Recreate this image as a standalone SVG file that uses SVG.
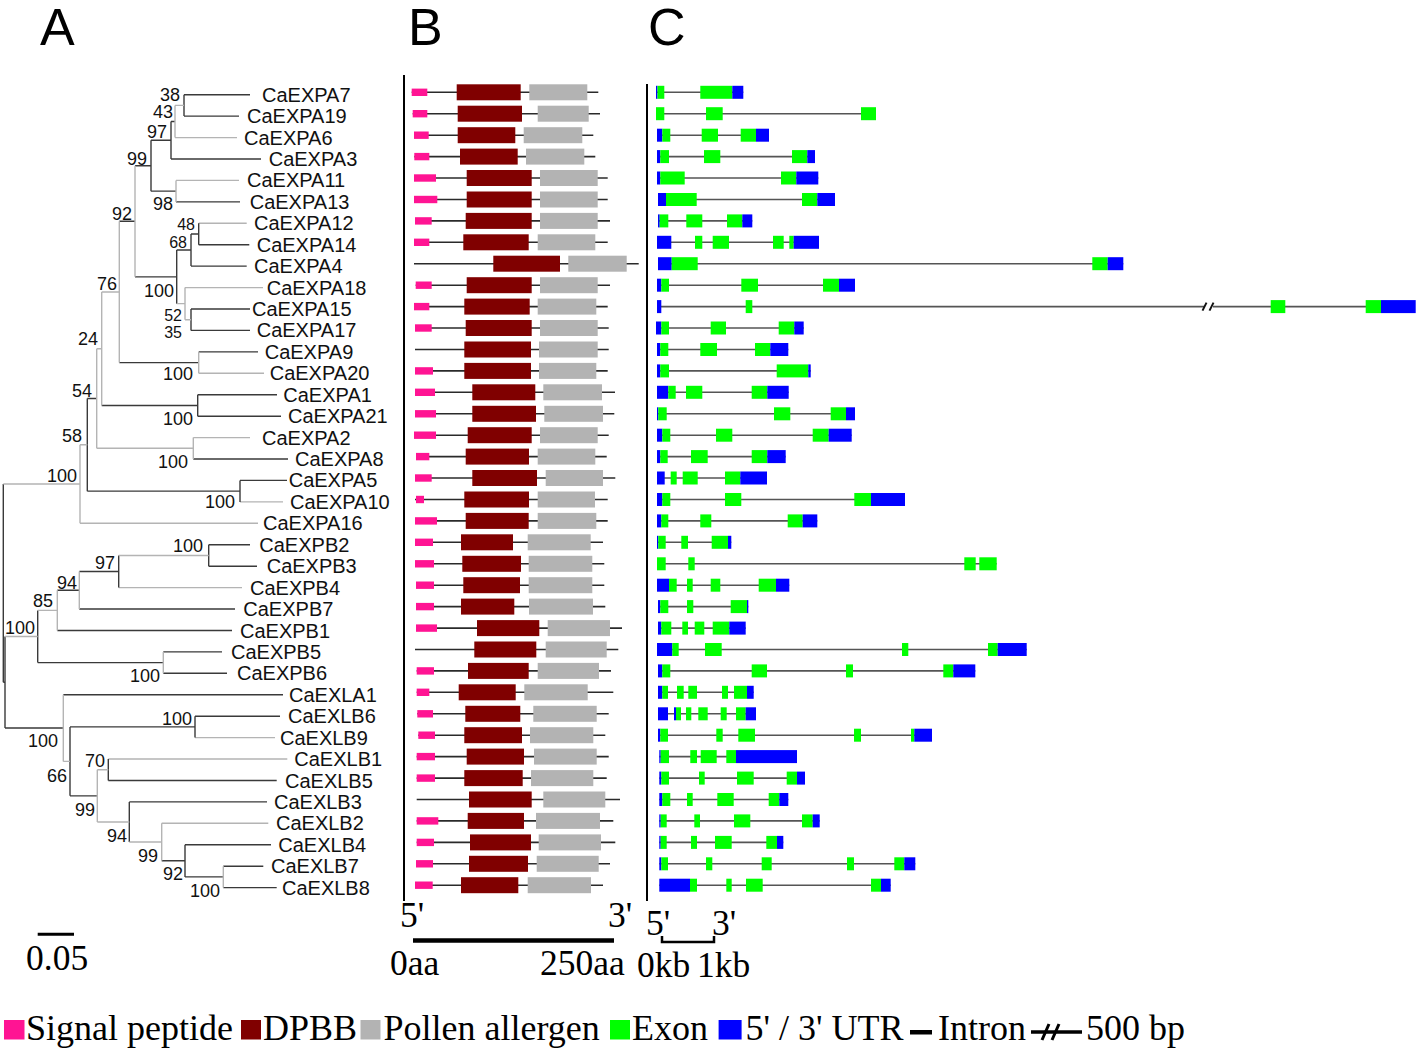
<svg xmlns="http://www.w3.org/2000/svg" width="1418" height="1052" viewBox="0 0 1418 1052">
<style>
.bg{fill:#fff}
.d{stroke:#3a3a3a;stroke-width:1.4;fill:none}
.g{stroke:#b4b4b4;stroke-width:1.4;fill:none}
.lf{font-family:"Liberation Sans",Arial,sans-serif;font-size:20px;fill:#111}
.sv{font-family:"Liberation Sans",Arial,sans-serif;font-size:18px;fill:#111;text-anchor:end}
.sm{font-size:16px}
.ttl{font-family:"Liberation Sans",Arial,sans-serif;font-size:52px;fill:#000}
.sr{font-family:"Liberation Serif","Times New Roman",serif;font-size:35.5px;fill:#000}
.lg{font-family:"Liberation Serif","Times New Roman",serif;font-size:36px;fill:#000}
.ax{stroke:#000;stroke-width:2;fill:none}
.bl{stroke:#2a2a2a;stroke-width:1.6}
.sp{fill:#ff1493}
.dp{fill:#800000}
.pa{fill:#b3b3b3}
.in{stroke:#555;stroke-width:1.6}
.ex{fill:#00ff00}
.ut{fill:#0000ff}
</style>
<rect class="bg" x="0" y="0" width="1418" height="1052"/>
<text class="ttl" x="40" y="45">A</text>
<text class="ttl" x="408" y="45">B</text>
<text class="ttl" x="648" y="45">C</text>

<g id="tree-connectors">
<path class="d" d="M184 94.7H250M184 116.1H239M171 159H261M176 201.9H240M198.7 244.7H249.3M191 266.1H246.7M191 309H250M191 330.4H250M198.7 351.9H258M197.7 394.7H277M197.7 416.2H281M193.3 459H288M240 480.4H287M208.7 544.7H250M208.7 566.2H257M79.3 609H235M57.3 630.5H232M163.3 651.9H222M163.3 673.3H227M63.3 694.7H283M195 716.2H280M108.3 780.5H276.7M129.3 801.9H267M185 844.7H271M223.3 866.2H263.3M223.3 887.6H276.7"/>
<path class="g" d="M175 137.6H237M176 180.4H239M198.7 223.3H246.7M185 287.6H263M198.7 373.3H264M193.3 437.6H250M240 501.9H283M80 523.3H258M118.7 587.6H242M195 737.6H275M108.3 759H287.3M161.7 823.3H268.3"/>
<path class="d" d="M184 94.7V116.1M171 121.5V159M171 121.5H175M151 140.25V191.15M151 140.25H171M151 191.15H176M198.7 223.3V244.7M191 234V266.1M191 234H198.7M191 309V330.4M176.7 250.05V303.65M176.7 250.05H191M135 165.7H151M135 276.85H176.7M119.3 221.3H135M119.3 362.6H198.7M197.7 394.7V416.2M101.7 405.45H197.7M240 480.4V501.9M87.3 398.5V491.15M87.3 398.5H96.7M87.3 491.15H240M208.7 544.7V566.2M118.7 555.45V587.6M79.3 571.5H118.7M57.3 590.25H79.3M37.7 610.4V662.6M37.7 662.6H163.3M195 716.2V737.6M108.3 759V780.5M185 844.7V876.9M185 876.9H223.3M161.7 860.8H185M129.3 801.9V842.05M70 726.9V795.86M70 726.9H195M70 795.86H97.3M5 636.5V728.04M5 728.04H63.3M3.3 484.05V682.27M3.3 682.27H5"/>
<path class="g" d="M175 105.4V137.6M175 105.4H184M176 180.4V201.9M185 287.6V319.7M185 319.7H191M176.7 303.65H185M135 165.7V276.85M198.7 351.9V373.3M119.3 221.3V362.6M101.7 291.95V405.45M101.7 291.95H119.3M193.3 437.6V459M96.7 348.7V448.3M96.7 348.7H101.7M96.7 448.3H193.3M80 444.8V523.3M80 444.8H87.3M118.7 555.45H208.7M79.3 571.5V609M57.3 590.25V630.5M163.3 651.9V673.3M37.7 610.4H57.3M223.3 866.2V887.6M161.7 823.3V860.8M129.3 842.05H161.7M97.3 769.75V821.98M97.3 769.75H108.3M97.3 821.98H129.3M63.3 694.7V761.38M63.3 761.38H70M5 636.5H37.7M3.3 484.05H80"/>
</g>

<g id="support-values">
<text class="sv" x="180" y="101">38</text>
<text class="sv" x="173" y="118">43</text>
<text class="sv" x="167" y="138">97</text>
<text class="sv" x="147" y="165">99</text>
<text class="sv" x="173" y="210">98</text>
<text class="sv" x="132" y="220">92</text>
<text class="sv sm" x="195" y="229.5">48</text>
<text class="sv sm" x="187" y="247.5">68</text>
<text class="sv" x="117" y="290">76</text>
<text class="sv" x="174" y="297">100</text>
<text class="sv sm" x="182" y="320.5">52</text>
<text class="sv sm" x="182" y="338">35</text>
<text class="sv" x="98" y="345">24</text>
<text class="sv" x="193" y="380">100</text>
<text class="sv" x="92" y="397">54</text>
<text class="sv" x="193" y="425">100</text>
<text class="sv" x="82" y="442">58</text>
<text class="sv" x="188" y="468">100</text>
<text class="sv" x="77" y="482">100</text>
<text class="sv" x="235" y="508">100</text>
<text class="sv" x="203" y="552">100</text>
<text class="sv" x="115" y="569">97</text>
<text class="sv" x="77" y="589">94</text>
<text class="sv" x="53" y="607">85</text>
<text class="sv" x="35" y="634">100</text>
<text class="sv" x="160" y="682">100</text>
<text class="sv" x="192" y="725">100</text>
<text class="sv" x="58" y="747">100</text>
<text class="sv" x="105" y="767">70</text>
<text class="sv" x="67" y="782">66</text>
<text class="sv" x="95" y="816">99</text>
<text class="sv" x="127" y="842">94</text>
<text class="sv" x="158" y="862">99</text>
<text class="sv" x="183" y="880">92</text>
<text class="sv" x="220" y="897">100</text>
</g>

<g id="leaf-labels">
<g id="leaf-CaEXPA7"><text class="lf" x="262" y="101.7">CaEXPA7</text></g>
<g id="leaf-CaEXPA19"><text class="lf" x="247" y="123.1">CaEXPA19</text></g>
<g id="leaf-CaEXPA6"><text class="lf" x="244" y="144.6">CaEXPA6</text></g>
<g id="leaf-CaEXPA3"><text class="lf" x="268.7" y="166">CaEXPA3</text></g>
<g id="leaf-CaEXPA11"><text class="lf" x="247" y="187.4">CaEXPA11</text></g>
<g id="leaf-CaEXPA13"><text class="lf" x="249.7" y="208.9">CaEXPA13</text></g>
<g id="leaf-CaEXPA12"><text class="lf" x="254" y="230.3">CaEXPA12</text></g>
<g id="leaf-CaEXPA14"><text class="lf" x="256.7" y="251.7">CaEXPA14</text></g>
<g id="leaf-CaEXPA4"><text class="lf" x="254" y="273.1">CaEXPA4</text></g>
<g id="leaf-CaEXPA18"><text class="lf" x="266.7" y="294.6">CaEXPA18</text></g>
<g id="leaf-CaEXPA15"><text class="lf" x="252" y="316">CaEXPA15</text></g>
<g id="leaf-CaEXPA17"><text class="lf" x="256.7" y="337.4">CaEXPA17</text></g>
<g id="leaf-CaEXPA9"><text class="lf" x="264.7" y="358.9">CaEXPA9</text></g>
<g id="leaf-CaEXPA20"><text class="lf" x="269.7" y="380.3">CaEXPA20</text></g>
<g id="leaf-CaEXPA1"><text class="lf" x="283.3" y="401.7">CaEXPA1</text></g>
<g id="leaf-CaEXPA21"><text class="lf" x="288" y="423.2">CaEXPA21</text></g>
<g id="leaf-CaEXPA2"><text class="lf" x="262" y="444.6">CaEXPA2</text></g>
<g id="leaf-CaEXPA8"><text class="lf" x="295" y="466">CaEXPA8</text></g>
<g id="leaf-CaEXPA5"><text class="lf" x="288.7" y="487.4">CaEXPA5</text></g>
<g id="leaf-CaEXPA10"><text class="lf" x="290" y="508.9">CaEXPA10</text></g>
<g id="leaf-CaEXPA16"><text class="lf" x="263" y="530.3">CaEXPA16</text></g>
<g id="leaf-CaEXPB2"><text class="lf" x="259.3" y="551.7">CaEXPB2</text></g>
<g id="leaf-CaEXPB3"><text class="lf" x="266.7" y="573.2">CaEXPB3</text></g>
<g id="leaf-CaEXPB4"><text class="lf" x="250" y="594.6">CaEXPB4</text></g>
<g id="leaf-CaEXPB7"><text class="lf" x="243.3" y="616">CaEXPB7</text></g>
<g id="leaf-CaEXPB1"><text class="lf" x="240" y="637.5">CaEXPB1</text></g>
<g id="leaf-CaEXPB5"><text class="lf" x="231" y="658.9">CaEXPB5</text></g>
<g id="leaf-CaEXPB6"><text class="lf" x="237" y="680.3">CaEXPB6</text></g>
<g id="leaf-CaEXLA1"><text class="lf" x="289" y="701.7">CaEXLA1</text></g>
<g id="leaf-CaEXLB6"><text class="lf" x="288" y="723.2">CaEXLB6</text></g>
<g id="leaf-CaEXLB9"><text class="lf" x="280" y="744.6">CaEXLB9</text></g>
<g id="leaf-CaEXLB1"><text class="lf" x="294.3" y="766">CaEXLB1</text></g>
<g id="leaf-CaEXLB5"><text class="lf" x="285" y="787.5">CaEXLB5</text></g>
<g id="leaf-CaEXLB3"><text class="lf" x="274" y="808.9">CaEXLB3</text></g>
<g id="leaf-CaEXLB2"><text class="lf" x="276" y="830.3">CaEXLB2</text></g>
<g id="leaf-CaEXLB4"><text class="lf" x="278.3" y="851.7">CaEXLB4</text></g>
<g id="leaf-CaEXLB7"><text class="lf" x="271" y="873.2">CaEXLB7</text></g>
<g id="leaf-CaEXLB8"><text class="lf" x="282" y="894.6">CaEXLB8</text></g>
</g>

<g id="scale-A">
<line x1="37.7" y1="934.3" x2="74" y2="934.3" stroke="#000" stroke-width="3"/>
<text class="sr" x="26" y="970" font-size="35">0.05</text>
</g>

<g id="panel-B">
<line class="ax" x1="404" y1="75" x2="404" y2="901"/>
<g id="b0" transform="translate(0,92.3)"><line class="bl" x1="411.7" x2="598.3"/><rect class="sp" x="411.7" y="-3.7" width="15.6" height="7.4"/><rect class="dp" x="456.7" y="-8" width="64" height="16"/><rect class="pa" x="529.3" y="-8" width="58" height="16"/></g>
<g id="b1" transform="translate(0,113.7)"><line class="bl" x1="412.7" x2="600"/><rect class="sp" x="412.7" y="-3.7" width="14.6" height="7.4"/><rect class="dp" x="457.7" y="-8" width="64.3" height="16"/><rect class="pa" x="537.7" y="-8" width="51" height="16"/></g>
<g id="b2" transform="translate(0,135.2)"><line class="bl" x1="414" x2="593.3"/><rect class="sp" x="414" y="-3.7" width="14.7" height="7.4"/><rect class="dp" x="457.7" y="-8" width="57.6" height="16"/><rect class="pa" x="523.7" y="-8" width="58.6" height="16"/></g>
<g id="b3" transform="translate(0,156.6)"><line class="bl" x1="414.3" x2="595.3"/><rect class="sp" x="414.3" y="-3.7" width="15" height="7.4"/><rect class="dp" x="460" y="-8" width="57.7" height="16"/><rect class="pa" x="526" y="-8" width="58.3" height="16"/></g>
<g id="b4" transform="translate(0,178)"><line class="bl" x1="414" x2="607.7"/><rect class="sp" x="414" y="-3.7" width="22" height="7.4"/><rect class="dp" x="466.7" y="-8" width="65" height="16"/><rect class="pa" x="540" y="-8" width="57.7" height="16"/></g>
<g id="b5" transform="translate(0,199.5)"><line class="bl" x1="414" x2="607.7"/><rect class="sp" x="414" y="-3.7" width="23.3" height="7.4"/><rect class="dp" x="466.7" y="-8" width="65" height="16"/><rect class="pa" x="540" y="-8" width="57.7" height="16"/></g>
<g id="b6" transform="translate(0,220.9)"><line class="bl" x1="415" x2="610"/><rect class="sp" x="415" y="-3.7" width="16.7" height="7.4"/><rect class="dp" x="465.7" y="-8" width="66" height="16"/><rect class="pa" x="540" y="-8" width="57.7" height="16"/></g>
<g id="b7" transform="translate(0,242.3)"><line class="bl" x1="414" x2="607.7"/><rect class="sp" x="414" y="-3.7" width="15.3" height="7.4"/><rect class="dp" x="463.3" y="-8" width="65.4" height="16"/><rect class="pa" x="537.7" y="-8" width="57.6" height="16"/></g>
<g id="b8" transform="translate(0,263.7)"><line class="bl" x1="414" x2="638.7"/><rect class="dp" x="493.3" y="-8" width="66.7" height="16"/><rect class="pa" x="568.3" y="-8" width="58.4" height="16"/></g>
<g id="b9" transform="translate(0,285.2)"><line class="bl" x1="415.7" x2="610"/><rect class="sp" x="415.7" y="-3.7" width="16" height="7.4"/><rect class="dp" x="466.7" y="-8" width="65" height="16"/><rect class="pa" x="540" y="-8" width="57.7" height="16"/></g>
<g id="b10" transform="translate(0,306.6)"><line class="bl" x1="414" x2="607.7"/><rect class="sp" x="414" y="-3.7" width="15.3" height="7.4"/><rect class="dp" x="464.3" y="-8" width="65.4" height="16"/><rect class="pa" x="537.7" y="-8" width="58.6" height="16"/></g>
<g id="b11" transform="translate(0,328)"><line class="bl" x1="415" x2="608.7"/><rect class="sp" x="415" y="-3.7" width="16.7" height="7.4"/><rect class="dp" x="465.7" y="-8" width="66" height="16"/><rect class="pa" x="540" y="-8" width="57.7" height="16"/></g>
<g id="b12" transform="translate(0,349.5)"><line class="bl" x1="415" x2="608.7"/><rect class="dp" x="464.3" y="-8" width="66.7" height="16"/><rect class="pa" x="539" y="-8" width="58.7" height="16"/></g>
<g id="b13" transform="translate(0,370.9)"><line class="bl" x1="415" x2="607.7"/><rect class="sp" x="415" y="-3.7" width="18" height="7.4"/><rect class="dp" x="464.3" y="-8" width="66.7" height="16"/><rect class="pa" x="539" y="-8" width="57.3" height="16"/></g>
<g id="b14" transform="translate(0,392.3)"><line class="bl" x1="415" x2="615"/><rect class="sp" x="415" y="-3.7" width="20" height="7.4"/><rect class="dp" x="472.3" y="-8" width="63" height="16"/><rect class="pa" x="543.3" y="-8" width="58.7" height="16"/></g>
<g id="b15" transform="translate(0,413.8)"><line class="bl" x1="415" x2="614.3"/><rect class="sp" x="415" y="-3.7" width="21" height="7.4"/><rect class="dp" x="472.3" y="-8" width="63.7" height="16"/><rect class="pa" x="544.3" y="-8" width="58.7" height="16"/></g>
<g id="b16" transform="translate(0,435.2)"><line class="bl" x1="414" x2="608.7"/><rect class="sp" x="414" y="-3.7" width="22" height="7.4"/><rect class="dp" x="467.7" y="-8" width="64" height="16"/><rect class="pa" x="540" y="-8" width="57.7" height="16"/></g>
<g id="b17" transform="translate(0,456.6)"><line class="bl" x1="416" x2="606.7"/><rect class="sp" x="416" y="-3.7" width="13.3" height="7.4"/><rect class="dp" x="465.7" y="-8" width="63.3" height="16"/><rect class="pa" x="537.7" y="-8" width="57.6" height="16"/></g>
<g id="b18" transform="translate(0,478)"><line class="bl" x1="415" x2="615.3"/><rect class="sp" x="415" y="-3.7" width="16.7" height="7.4"/><rect class="dp" x="472.3" y="-8" width="64.7" height="16"/><rect class="pa" x="545.7" y="-8" width="57.3" height="16"/></g>
<g id="b19" transform="translate(0,499.5)"><line class="bl" x1="415" x2="607.7"/><rect class="sp" x="416" y="-3.7" width="8" height="7.4"/><rect class="dp" x="464.3" y="-8" width="64.7" height="16"/><rect class="pa" x="537.7" y="-8" width="57.3" height="16"/></g>
<g id="b20" transform="translate(0,520.9)"><line class="bl" x1="415" x2="607.7"/><rect class="sp" x="415" y="-3.7" width="22" height="7.4"/><rect class="dp" x="465.7" y="-8" width="63" height="16"/><rect class="pa" x="537.7" y="-8" width="58.6" height="16"/></g>
<g id="b21" transform="translate(0,542.3)"><line class="bl" x1="415" x2="603"/><rect class="sp" x="415" y="-3.7" width="18" height="7.4"/><rect class="dp" x="461" y="-8" width="52" height="16"/><rect class="pa" x="527.7" y="-8" width="63" height="16"/></g>
<g id="b22" transform="translate(0,563.8)"><line class="bl" x1="415" x2="604.3"/><rect class="sp" x="415" y="-3.7" width="19" height="7.4"/><rect class="dp" x="462.3" y="-8" width="58.7" height="16"/><rect class="pa" x="528.7" y="-8" width="63.6" height="16"/></g>
<g id="b23" transform="translate(0,585.2)"><line class="bl" x1="416" x2="604.3"/><rect class="sp" x="416" y="-3.7" width="18" height="7.4"/><rect class="dp" x="463.3" y="-8" width="56.7" height="16"/><rect class="pa" x="528.7" y="-8" width="63.6" height="16"/></g>
<g id="b24" transform="translate(0,606.6)"><line class="bl" x1="416" x2="605.3"/><rect class="sp" x="416" y="-3.7" width="18" height="7.4"/><rect class="dp" x="461" y="-8" width="53.3" height="16"/><rect class="pa" x="529" y="-8" width="64" height="16"/></g>
<g id="b25" transform="translate(0,628.1)"><line class="bl" x1="416" x2="622"/><rect class="sp" x="416" y="-3.7" width="21" height="7.4"/><rect class="dp" x="477" y="-8" width="62.3" height="16"/><rect class="pa" x="547.7" y="-8" width="62.3" height="16"/></g>
<g id="b26" transform="translate(0,649.5)"><line class="bl" x1="415" x2="618.3"/><rect class="dp" x="474.3" y="-8" width="62" height="16"/><rect class="pa" x="545.7" y="-8" width="61" height="16"/></g>
<g id="b27" transform="translate(0,670.9)"><line class="bl" x1="416.7" x2="611"/><rect class="sp" x="416.7" y="-3.7" width="17.3" height="7.4"/><rect class="dp" x="468" y="-8" width="60.7" height="16"/><rect class="pa" x="537.7" y="-8" width="61.3" height="16"/></g>
<g id="b28" transform="translate(0,692.3)"><line class="bl" x1="416.7" x2="613.3"/><rect class="sp" x="416.7" y="-3.7" width="12.6" height="7.4"/><rect class="dp" x="458.7" y="-8" width="57" height="16"/><rect class="pa" x="524.3" y="-8" width="63.4" height="16"/></g>
<g id="b29" transform="translate(0,713.8)"><line class="bl" x1="417.3" x2="608.7"/><rect class="sp" x="417.3" y="-3.7" width="15.7" height="7.4"/><rect class="dp" x="465.3" y="-8" width="55" height="16"/><rect class="pa" x="533.3" y="-8" width="63.4" height="16"/></g>
<g id="b30" transform="translate(0,735.2)"><line class="bl" x1="418.3" x2="605.3"/><rect class="sp" x="418.3" y="-3.7" width="16.7" height="7.4"/><rect class="dp" x="464.3" y="-8" width="57.7" height="16"/><rect class="pa" x="530" y="-8" width="63.3" height="16"/></g>
<g id="b31" transform="translate(0,756.6)"><line class="bl" x1="416.7" x2="608.7"/><rect class="sp" x="416.7" y="-3.7" width="18.3" height="7.4"/><rect class="dp" x="466.7" y="-8" width="57.3" height="16"/><rect class="pa" x="534" y="-8" width="62.7" height="16"/></g>
<g id="b32" transform="translate(0,778.1)"><line class="bl" x1="416.7" x2="606.7"/><rect class="sp" x="416.7" y="-3.7" width="18.3" height="7.4"/><rect class="dp" x="464.3" y="-8" width="58.4" height="16"/><rect class="pa" x="531" y="-8" width="62.3" height="16"/></g>
<g id="b33" transform="translate(0,799.5)"><line class="bl" x1="416.7" x2="620"/><rect class="dp" x="469" y="-8" width="62.7" height="16"/><rect class="pa" x="543.3" y="-8" width="62" height="16"/></g>
<g id="b34" transform="translate(0,820.9)"><line class="bl" x1="416.7" x2="613.3"/><rect class="sp" x="416.7" y="-3.7" width="21.6" height="7.4"/><rect class="dp" x="467.7" y="-8" width="56.3" height="16"/><rect class="pa" x="536" y="-8" width="64" height="16"/></g>
<g id="b35" transform="translate(0,842.4)"><line class="bl" x1="416.7" x2="615.3"/><rect class="sp" x="416.7" y="-3.7" width="17.3" height="7.4"/><rect class="dp" x="470" y="-8" width="61" height="16"/><rect class="pa" x="538.7" y="-8" width="62.3" height="16"/></g>
<g id="b36" transform="translate(0,863.8)"><line class="bl" x1="416" x2="610"/><rect class="sp" x="416" y="-3.7" width="17" height="7.4"/><rect class="dp" x="469" y="-8" width="59" height="16"/><rect class="pa" x="536.7" y="-8" width="62" height="16"/></g>
<g id="b37" transform="translate(0,885.2)"><line class="bl" x1="415" x2="603"/><rect class="sp" x="415" y="-3.7" width="17.7" height="7.4"/><rect class="dp" x="461" y="-8" width="57.3" height="16"/><rect class="pa" x="527.7" y="-8" width="63.3" height="16"/></g>
<text class="sr" x="400" y="927">5'</text>
<text class="sr" x="608" y="927">3'</text>
<line x1="413" y1="940.5" x2="614" y2="940.5" stroke="#000" stroke-width="4.5"/>
<text class="sr" x="390" y="975">0aa</text>
<text class="sr" x="540" y="975">250aa</text>
</g>

<g id="panel-C">
<line class="ax" x1="647" y1="84" x2="647" y2="901"/>
<g id="c0" transform="translate(0,92.3)"><line class="in" x1="656" x2="743.3"/><rect class="ut" x="656" y="-6.5" width="1.5" height="13"/><rect class="ex" x="657.5" y="-6.5" width="6.8" height="13"/><rect class="ex" x="700.3" y="-6.5" width="32" height="13"/><rect class="ut" x="732.3" y="-6.5" width="11" height="13"/></g>
<g id="c1" transform="translate(0,113.7)"><line class="in" x1="656" x2="876"/><rect class="ex" x="656" y="-6.5" width="8.3" height="13"/><rect class="ex" x="706" y="-6.5" width="16.7" height="13"/><rect class="ex" x="861" y="-6.5" width="15" height="13"/></g>
<g id="c2" transform="translate(0,135.2)"><line class="in" x1="657" x2="769"/><rect class="ut" x="657" y="-6.5" width="5.3" height="13"/><rect class="ex" x="662.3" y="-6.5" width="8" height="13"/><rect class="ex" x="701.7" y="-6.5" width="16.3" height="13"/><rect class="ex" x="740.7" y="-6.5" width="15.3" height="13"/><rect class="ut" x="756" y="-6.5" width="13" height="13"/></g>
<g id="c3" transform="translate(0,156.6)"><line class="in" x1="657" x2="815"/><rect class="ut" x="657" y="-6.5" width="3.3" height="13"/><rect class="ex" x="660.3" y="-6.5" width="8.7" height="13"/><rect class="ex" x="704" y="-6.5" width="16.3" height="13"/><rect class="ex" x="792" y="-6.5" width="15.3" height="13"/><rect class="ut" x="807.3" y="-6.5" width="7.7" height="13"/></g>
<g id="c4" transform="translate(0,178)"><line class="in" x1="657" x2="818.3"/><rect class="ut" x="657" y="-6.5" width="3.3" height="13"/><rect class="ex" x="660.3" y="-6.5" width="24.4" height="13"/><rect class="ex" x="781" y="-6.5" width="15.3" height="13"/><rect class="ut" x="796.3" y="-6.5" width="22" height="13"/></g>
<g id="c5" transform="translate(0,199.5)"><line class="in" x1="658" x2="835"/><rect class="ut" x="658" y="-6.5" width="8" height="13"/><rect class="ex" x="666" y="-6.5" width="30.7" height="13"/><rect class="ex" x="802" y="-6.5" width="15.3" height="13"/><rect class="ut" x="817.3" y="-6.5" width="17.7" height="13"/></g>
<g id="c6" transform="translate(0,220.9)"><line class="in" x1="658" x2="752.3"/><rect class="ut" x="658" y="-6.5" width="1.7" height="13"/><rect class="ex" x="659.7" y="-6.5" width="8.6" height="13"/><rect class="ex" x="686.3" y="-6.5" width="16" height="13"/><rect class="ex" x="727" y="-6.5" width="15.3" height="13"/><rect class="ut" x="742.3" y="-6.5" width="10" height="13"/></g>
<g id="c7" transform="translate(0,242.3)"><line class="in" x1="657" x2="819"/><rect class="ut" x="657" y="-6.5" width="14.3" height="13"/><rect class="ex" x="695" y="-6.5" width="7.3" height="13"/><rect class="ex" x="712.7" y="-6.5" width="16.3" height="13"/><rect class="ex" x="773" y="-6.5" width="10.7" height="13"/><rect class="ex" x="789.3" y="-6.5" width="4.4" height="13"/><rect class="ut" x="793.7" y="-6.5" width="25.3" height="13"/></g>
<g id="c8" transform="translate(0,263.7)"><line class="in" x1="658" x2="1123.3" stroke="#888"/><rect class="ut" x="658" y="-6.5" width="13.7" height="13"/><rect class="ex" x="671.7" y="-6.5" width="26" height="13"/><rect class="ex" x="1092.3" y="-6.5" width="15.4" height="13"/><rect class="ut" x="1107.7" y="-6.5" width="15.6" height="13"/></g>
<g id="c9" transform="translate(0,285.2)"><line class="in" x1="657" x2="855"/><rect class="ut" x="657" y="-6.5" width="4.3" height="13"/><rect class="ex" x="661.3" y="-6.5" width="7.7" height="13"/><rect class="ex" x="741.3" y="-6.5" width="16.7" height="13"/><rect class="ex" x="823" y="-6.5" width="16" height="13"/><rect class="ut" x="839" y="-6.5" width="16" height="13"/></g>
<g id="c10" transform="translate(0,306.6)"><line class="in" x1="657" x2="1204"/><line class="in" x1="1213" x2="1381"/><line x1="1202.5" y1="4" x2="1206.5" y2="-4" stroke="#111" stroke-width="2"/><line x1="1209.5" y1="4" x2="1213.5" y2="-4" stroke="#111" stroke-width="2"/><rect class="ut" x="657" y="-6.5" width="4.3" height="13"/><rect class="ex" x="745.7" y="-6.5" width="6.6" height="13"/><rect class="ex" x="1270.7" y="-6.5" width="14.6" height="13"/><rect class="ex" x="1365.7" y="-6.5" width="15.3" height="13"/><rect class="ut" x="1381" y="-6.5" width="34.7" height="13"/></g>
<g id="c11" transform="translate(0,328)"><line class="in" x1="656" x2="803.7"/><rect class="ut" x="656" y="-6.5" width="5.3" height="13"/><rect class="ex" x="661.3" y="-6.5" width="7.7" height="13"/><rect class="ex" x="710.7" y="-6.5" width="15.3" height="13"/><rect class="ex" x="778.7" y="-6.5" width="15.6" height="13"/><rect class="ut" x="794.3" y="-6.5" width="9.4" height="13"/></g>
<g id="c12" transform="translate(0,349.5)"><line class="in" x1="657" x2="788.3"/><rect class="ut" x="657" y="-6.5" width="3.3" height="13"/><rect class="ex" x="660.3" y="-6.5" width="8" height="13"/><rect class="ex" x="700.3" y="-6.5" width="16.7" height="13"/><rect class="ex" x="755" y="-6.5" width="15.3" height="13"/><rect class="ut" x="770.3" y="-6.5" width="18" height="13"/></g>
<g id="c13" transform="translate(0,370.9)"><line class="in" x1="657" x2="810.7"/><rect class="ut" x="657" y="-6.5" width="3.3" height="13"/><rect class="ex" x="660.3" y="-6.5" width="8.7" height="13"/><rect class="ex" x="776.7" y="-6.5" width="31.6" height="13"/><rect class="ut" x="808.3" y="-6.5" width="2.4" height="13"/></g>
<g id="c14" transform="translate(0,392.3)"><line class="in" x1="657" x2="788.7"/><rect class="ut" x="657" y="-6.5" width="11.3" height="13"/><rect class="ex" x="668.3" y="-6.5" width="7.4" height="13"/><rect class="ex" x="686" y="-6.5" width="16.3" height="13"/><rect class="ex" x="751.7" y="-6.5" width="15.6" height="13"/><rect class="ut" x="767.3" y="-6.5" width="21.4" height="13"/></g>
<g id="c15" transform="translate(0,413.8)"><line class="in" x1="657" x2="855"/><rect class="ut" x="657" y="-6.5" width="1.3" height="13"/><rect class="ex" x="658.3" y="-6.5" width="8.4" height="13"/><rect class="ex" x="774" y="-6.5" width="16.3" height="13"/><rect class="ex" x="830.7" y="-6.5" width="15.3" height="13"/><rect class="ut" x="846" y="-6.5" width="9" height="13"/></g>
<g id="c16" transform="translate(0,435.2)"><line class="in" x1="657" x2="851.7"/><rect class="ut" x="657" y="-6.5" width="5.3" height="13"/><rect class="ex" x="662.3" y="-6.5" width="8" height="13"/><rect class="ex" x="716" y="-6.5" width="16.3" height="13"/><rect class="ex" x="812.7" y="-6.5" width="16" height="13"/><rect class="ut" x="828.7" y="-6.5" width="23" height="13"/></g>
<g id="c17" transform="translate(0,456.6)"><line class="in" x1="657" x2="785.7"/><rect class="ut" x="657" y="-6.5" width="3.3" height="13"/><rect class="ex" x="660.3" y="-6.5" width="7.4" height="13"/><rect class="ex" x="691" y="-6.5" width="16.7" height="13"/><rect class="ex" x="751.7" y="-6.5" width="15.6" height="13"/><rect class="ut" x="767.3" y="-6.5" width="18.4" height="13"/></g>
<g id="c18" transform="translate(0,478)"><line class="in" x1="657" x2="767"/><rect class="ut" x="657" y="-6.5" width="7.7" height="13"/><rect class="ex" x="670.7" y="-6.5" width="6" height="13"/><rect class="ex" x="682.7" y="-6.5" width="15" height="13"/><rect class="ex" x="725" y="-6.5" width="15.3" height="13"/><rect class="ut" x="740.3" y="-6.5" width="26.7" height="13"/></g>
<g id="c19" transform="translate(0,499.5)"><line class="in" x1="657" x2="905"/><rect class="ut" x="657" y="-6.5" width="5.3" height="13"/><rect class="ex" x="662.3" y="-6.5" width="8" height="13"/><rect class="ex" x="725" y="-6.5" width="16.3" height="13"/><rect class="ex" x="854.3" y="-6.5" width="16.7" height="13"/><rect class="ut" x="871" y="-6.5" width="34" height="13"/></g>
<g id="c20" transform="translate(0,520.9)"><line class="in" x1="657" x2="817.3"/><rect class="ut" x="657" y="-6.5" width="4.3" height="13"/><rect class="ex" x="661.3" y="-6.5" width="7" height="13"/><rect class="ex" x="700.3" y="-6.5" width="11" height="13"/><rect class="ex" x="787.7" y="-6.5" width="15" height="13"/><rect class="ut" x="802.7" y="-6.5" width="14.6" height="13"/></g>
<g id="c21" transform="translate(0,542.3)"><line class="in" x1="657" x2="731.3"/><rect class="ut" x="657" y="-6.5" width="1.3" height="13"/><rect class="ex" x="658.3" y="-6.5" width="7.4" height="13"/><rect class="ex" x="681.3" y="-6.5" width="6.7" height="13"/><rect class="ex" x="711.7" y="-6.5" width="16.3" height="13"/><rect class="ut" x="728" y="-6.5" width="3.3" height="13"/></g>
<g id="c22" transform="translate(0,563.8)"><line class="in" x1="657" x2="996.7"/><rect class="ex" x="657" y="-6.5" width="8.7" height="13"/><rect class="ex" x="688.3" y="-6.5" width="6.4" height="13"/><rect class="ex" x="964.3" y="-6.5" width="11.4" height="13"/><rect class="ex" x="979.3" y="-6.5" width="17.4" height="13"/></g>
<g id="c23" transform="translate(0,585.2)"><line class="in" x1="657" x2="789.3"/><rect class="ut" x="657" y="-6.5" width="12" height="13"/><rect class="ex" x="669" y="-6.5" width="7.7" height="13"/><rect class="ex" x="687" y="-6.5" width="5.7" height="13"/><rect class="ex" x="710.7" y="-6.5" width="9.6" height="13"/><rect class="ex" x="758.7" y="-6.5" width="17.3" height="13"/><rect class="ut" x="776" y="-6.5" width="13.3" height="13"/></g>
<g id="c24" transform="translate(0,606.6)"><line class="in" x1="658" x2="748.3"/><rect class="ut" x="658" y="-6.5" width="2.3" height="13"/><rect class="ex" x="660.3" y="-6.5" width="8" height="13"/><rect class="ex" x="687" y="-6.5" width="6.3" height="13"/><rect class="ex" x="730.7" y="-6.5" width="16.3" height="13"/><rect class="ut" x="747" y="-6.5" width="1.3" height="13"/></g>
<g id="c25" transform="translate(0,628.1)"><line class="in" x1="658" x2="745.7"/><rect class="ut" x="658" y="-6.5" width="3.3" height="13"/><rect class="ex" x="661.3" y="-6.5" width="10" height="13"/><rect class="ex" x="682.3" y="-6.5" width="5.7" height="13"/><rect class="ex" x="694.7" y="-6.5" width="9.6" height="13"/><rect class="ex" x="712.7" y="-6.5" width="16.6" height="13"/><rect class="ut" x="729.3" y="-6.5" width="16.4" height="13"/></g>
<g id="c26" transform="translate(0,649.5)"><line class="in" x1="657" x2="1026.7" stroke="#999"/><rect class="ut" x="657" y="-6.5" width="15.3" height="13"/><rect class="ex" x="672.3" y="-6.5" width="6.4" height="13"/><rect class="ex" x="705" y="-6.5" width="16.7" height="13"/><rect class="ex" x="902" y="-6.5" width="6.3" height="13"/><rect class="ex" x="988" y="-6.5" width="9.7" height="13"/><rect class="ut" x="997.7" y="-6.5" width="29" height="13"/></g>
<g id="c27" transform="translate(0,670.9)"><line class="in" x1="658" x2="975.3"/><rect class="ut" x="658" y="-6.5" width="4.3" height="13"/><rect class="ex" x="662.3" y="-6.5" width="8" height="13"/><rect class="ex" x="751.7" y="-6.5" width="15.3" height="13"/><rect class="ex" x="846" y="-6.5" width="7" height="13"/><rect class="ex" x="943.3" y="-6.5" width="10" height="13"/><rect class="ut" x="953.3" y="-6.5" width="22" height="13"/></g>
<g id="c28" transform="translate(0,692.3)"><line class="in" x1="658" x2="753.7"/><rect class="ut" x="658" y="-6.5" width="4.3" height="13"/><rect class="ex" x="662.3" y="-6.5" width="5.7" height="13"/><rect class="ex" x="677" y="-6.5" width="6.7" height="13"/><rect class="ex" x="688.3" y="-6.5" width="8.7" height="13"/><rect class="ex" x="722" y="-6.5" width="6" height="13"/><rect class="ex" x="734" y="-6.5" width="13" height="13"/><rect class="ut" x="747" y="-6.5" width="6.7" height="13"/></g>
<g id="c29" transform="translate(0,713.8)"><line class="in" x1="658" x2="756"/><rect class="ut" x="658" y="-6.5" width="10" height="13"/><rect class="ut" x="674" y="-6.5" width="2" height="13"/><rect class="ex" x="676" y="-6.5" width="5" height="13"/><rect class="ex" x="686" y="-6.5" width="5.3" height="13"/><rect class="ex" x="698.3" y="-6.5" width="9.4" height="13"/><rect class="ex" x="720.7" y="-6.5" width="6" height="13"/><rect class="ex" x="736" y="-6.5" width="9.7" height="13"/><rect class="ut" x="745.7" y="-6.5" width="10.3" height="13"/></g>
<g id="c30" transform="translate(0,735.2)"><line class="in" x1="658" x2="932"/><rect class="ut" x="658" y="-6.5" width="2.3" height="13"/><rect class="ex" x="660.3" y="-6.5" width="7.7" height="13"/><rect class="ex" x="716.3" y="-6.5" width="6.4" height="13"/><rect class="ex" x="738.3" y="-6.5" width="16.7" height="13"/><rect class="ex" x="854" y="-6.5" width="7" height="13"/><rect class="ex" x="911" y="-6.5" width="3.3" height="13"/><rect class="ut" x="914.3" y="-6.5" width="17.7" height="13"/></g>
<g id="c31" transform="translate(0,756.6)"><line class="in" x1="659.3" x2="797"/><rect class="ut" x="659.3" y="-6.5" width="1.4" height="13"/><rect class="ex" x="660.7" y="-6.5" width="8.3" height="13"/><rect class="ex" x="690.3" y="-6.5" width="6.7" height="13"/><rect class="ex" x="700.7" y="-6.5" width="16" height="13"/><rect class="ex" x="726.3" y="-6.5" width="9.7" height="13"/><rect class="ut" x="736" y="-6.5" width="61" height="13"/></g>
<g id="c32" transform="translate(0,778.1)"><line class="in" x1="659.3" x2="805"/><rect class="ut" x="659.3" y="-6.5" width="2" height="13"/><rect class="ex" x="661.3" y="-6.5" width="7.7" height="13"/><rect class="ex" x="699" y="-6.5" width="5.7" height="13"/><rect class="ex" x="737" y="-6.5" width="16.7" height="13"/><rect class="ex" x="786.7" y="-6.5" width="10.3" height="13"/><rect class="ut" x="797" y="-6.5" width="8" height="13"/></g>
<g id="c33" transform="translate(0,799.5)"><line class="in" x1="659.3" x2="788.3"/><rect class="ut" x="659.3" y="-6.5" width="3" height="13"/><rect class="ex" x="662.3" y="-6.5" width="8" height="13"/><rect class="ex" x="687" y="-6.5" width="5.7" height="13"/><rect class="ex" x="717.3" y="-6.5" width="16.4" height="13"/><rect class="ex" x="768.7" y="-6.5" width="10.6" height="13"/><rect class="ut" x="779.3" y="-6.5" width="9" height="13"/></g>
<g id="c34" transform="translate(0,820.9)"><line class="in" x1="659.3" x2="819.7"/><rect class="ut" x="659.3" y="-6.5" width="1.4" height="13"/><rect class="ex" x="660.7" y="-6.5" width="6" height="13"/><rect class="ex" x="694.3" y="-6.5" width="5.7" height="13"/><rect class="ex" x="734" y="-6.5" width="16.3" height="13"/><rect class="ex" x="802" y="-6.5" width="10.7" height="13"/><rect class="ut" x="812.7" y="-6.5" width="7" height="13"/></g>
<g id="c35" transform="translate(0,842.4)"><line class="in" x1="659.3" x2="783.3"/><rect class="ut" x="659.3" y="-6.5" width="1.4" height="13"/><rect class="ex" x="660.7" y="-6.5" width="6" height="13"/><rect class="ex" x="691" y="-6.5" width="6" height="13"/><rect class="ex" x="715" y="-6.5" width="16.7" height="13"/><rect class="ex" x="766.3" y="-6.5" width="10.7" height="13"/><rect class="ut" x="777" y="-6.5" width="6.3" height="13"/></g>
<g id="c36" transform="translate(0,863.8)"><line class="in" x1="659.3" x2="915.3"/><rect class="ut" x="659.3" y="-6.5" width="2" height="13"/><rect class="ex" x="661.3" y="-6.5" width="6.7" height="13"/><rect class="ex" x="706" y="-6.5" width="6.3" height="13"/><rect class="ex" x="761.7" y="-6.5" width="10" height="13"/><rect class="ex" x="847" y="-6.5" width="7" height="13"/><rect class="ex" x="894.3" y="-6.5" width="10" height="13"/><rect class="ut" x="904.3" y="-6.5" width="11" height="13"/></g>
<g id="c37" transform="translate(0,885.2)"><line class="in" x1="659.3" x2="890.7"/><rect class="ut" x="659.3" y="-6.5" width="30.7" height="13"/><rect class="ex" x="690" y="-6.5" width="7" height="13"/><rect class="ex" x="726.3" y="-6.5" width="5.4" height="13"/><rect class="ex" x="746" y="-6.5" width="16.7" height="13"/><rect class="ex" x="871" y="-6.5" width="10" height="13"/><rect class="ut" x="881" y="-6.5" width="9.7" height="13"/></g>
<text class="sr" x="646" y="935">5'</text>
<text class="sr" x="712" y="935">3'</text>
<path d="M662 936V942H714V936" stroke="#000" stroke-width="2.5" fill="none"/>
<text class="sr" x="637" y="977">0kb</text>
<text class="sr" x="697" y="977">1kb</text>
</g>

<g id="legend">
<rect x="4" y="1020" width="20.5" height="19.5" fill="#ff1493"/>
<text class="lg" x="26" y="1040">Signal peptide</text>
<rect x="241" y="1020" width="20" height="19.5" fill="#800000"/>
<text class="lg" x="263" y="1040">DPBB</text>
<rect x="360.5" y="1020" width="20" height="19.5" fill="#b3b3b3"/>
<text class="lg" x="383.5" y="1040">Pollen allergen</text>
<rect x="610" y="1020" width="20" height="19.5" fill="#00ff00"/>
<text class="lg" x="632" y="1040">Exon</text>
<rect x="718.6" y="1020" width="23" height="19.5" fill="#0000ff"/>
<text class="lg" x="745.5" y="1040">5' / 3' UTR</text>
<rect x="910" y="1030" width="22" height="4.5" fill="#000"/>
<text class="lg" x="938" y="1040">Intron</text>
<path d="M1031 1032H1082" stroke="#000" stroke-width="3.5"/>
<path d="M1042 1040L1049 1024M1052 1040L1059 1024" stroke="#000" stroke-width="3"/>
<text class="lg" x="1086" y="1040">500 bp</text>
</g>
</svg>
